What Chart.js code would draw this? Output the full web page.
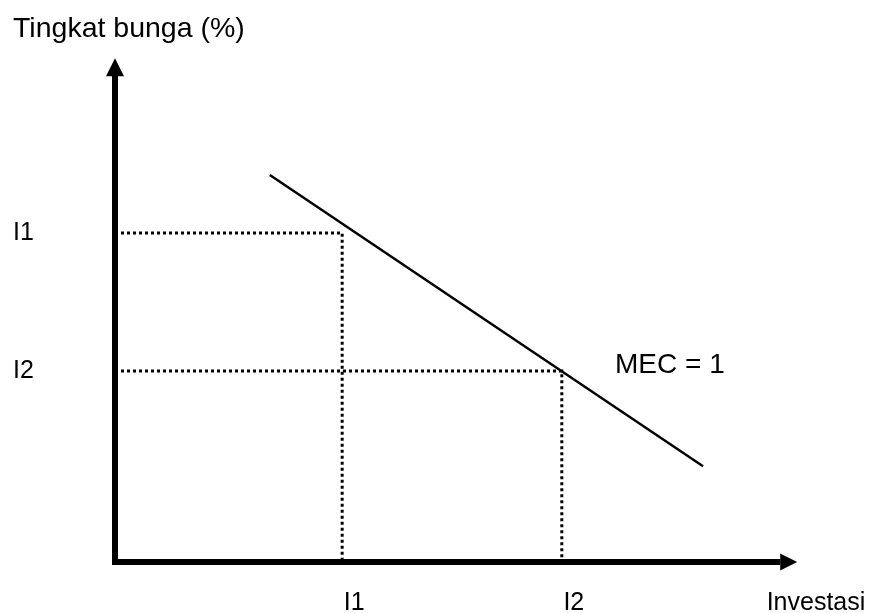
<!DOCTYPE html>
<html>
<head>
<meta charset="utf-8">
<script src="https://cdn.jsdelivr.net/npm/chart.js@4.4.1/dist/chart.umd.min.js"></script>
<style>
  body { margin: 0; background: #fff; }
  canvas { display: block; }
</style>
</head>
<body>
<canvas id="mecChart" width="878" height="613"></canvas>
<script>
// values in axis units (x: investasi 0..101, y: tingkat bunga 0..100)
const mecX = [22.7, 86.2];
const mecY = [76.8, 19.0];
const rateLevels = [65.3, 37.9];      // I1, I2 on the rate axis
const investLevels = [33.3, 65.5];    // I1, I2 on the investment axis
const yTickLabels = ['I1', 'I2'];
const xTickValues = [33.3, 65.5, 101];
const xTickLabels = ['I1', 'I2', 'Investasi'];
const mecLabel = 'MEC = 1';
const mecLabelAt = [73.3, 39.1];
const axisMax = [100, 100];           // where the arrows end

const font = 'Liberation Sans, Arial, sans-serif';

const guide = (i) => ({
  data: [
    { x: 0, y: rateLevels[i] },
    { x: investLevels[i], y: rateLevels[i] },
    { x: investLevels[i], y: 0 }
  ],
  borderColor: '#000',
  borderWidth: 3,
  borderDash: [3, 3],
  pointRadius: 0,
  showLine: true
});

const axesPlugin = {
  id: 'arrowAxes',
  afterDatasetsDraw(chart) {
    const { ctx, scales: { x, y } } = chart;
    const x0 = x.getPixelForValue(0), y0 = y.getPixelForValue(0);
    const xEnd = x.getPixelForValue(axisMax[0]), yEnd = y.getPixelForValue(axisMax[1]);
    ctx.save();
    ctx.fillStyle = '#000';
    // y axis + arrow
    ctx.fillRect(x0 - 3, yEnd + 17, 6, y0 - yEnd - 14);
    ctx.beginPath();
    ctx.moveTo(x0, yEnd);
    ctx.lineTo(x0 - 9, yEnd + 18);
    ctx.lineTo(x0 + 9, yEnd + 18);
    ctx.closePath();
    ctx.fill();
    // x axis + arrow
    ctx.fillRect(x0 - 3, y0 - 3, xEnd - x0 - 14, 6);
    ctx.beginPath();
    ctx.moveTo(xEnd, y0);
    ctx.lineTo(xEnd - 17, y0 - 8.5);
    ctx.lineTo(xEnd - 17, y0 + 8.5);
    ctx.closePath();
    ctx.fill();
    // curve label
    ctx.font = '28px ' + font;
    ctx.textAlign = 'left';
    ctx.textBaseline = 'middle';
    ctx.fillText(mecLabel, x.getPixelForValue(mecLabelAt[0]), y.getPixelForValue(mecLabelAt[1]));
    ctx.restore();
  }
};

new Chart(document.getElementById('mecChart'), {
  type: 'scatter',
  data: {
    datasets: [
      {
        data: mecX.map((v, i) => ({ x: v, y: mecY[i] })),
        borderColor: '#000',
        borderWidth: 2.5,
        pointRadius: 0,
        showLine: true
      },
      guide(0),
      guide(1)
    ]
  },
  options: {
    responsive: false,
    animation: false,
    layout: { padding: { left: 13, right: 74, top: 0, bottom: 0 } },
    plugins: {
      legend: { display: false },
      tooltip: { enabled: false },
      title: {
        display: true,
        text: 'Tingkat bunga (%)',
        align: 'start',
        color: '#000',
        font: { family: font, size: 28.5, weight: 'normal' },
        padding: { top: 12, bottom: 12 }
      }
    },
    scales: {
      x: {
        type: 'linear',
        min: 0,
        max: 101,
        grid: { display: false },
        border: { display: false },
        afterBuildTicks: s => { s.ticks = xTickValues.map(v => ({ value: v })); },
        afterFit: s => { s.height = 51; },
        ticks: {
          color: '#000',
          font: { family: font, size: 25 },
          padding: 18,
          labelOffset: 12,
          maxRotation: 0,
          autoSkip: false,
          callback: (v, i) => xTickLabels[i]
        }
      },
      y: {
        type: 'linear',
        min: 0,
        max: 100,
        grid: { display: false },
        border: { display: false },
        afterBuildTicks: s => { s.ticks = rateLevels.map(v => ({ value: v })); },
        afterFit: s => { s.width = 102; },
        ticks: {
          color: '#000',
          font: { family: font, size: 25 },
          crossAlign: 'far',
          autoSkip: false,
          callback: (v, i) => yTickLabels[i]
        }
      }
    }
  },
  plugins: [axesPlugin]
});
</script>
</body>
</html>
